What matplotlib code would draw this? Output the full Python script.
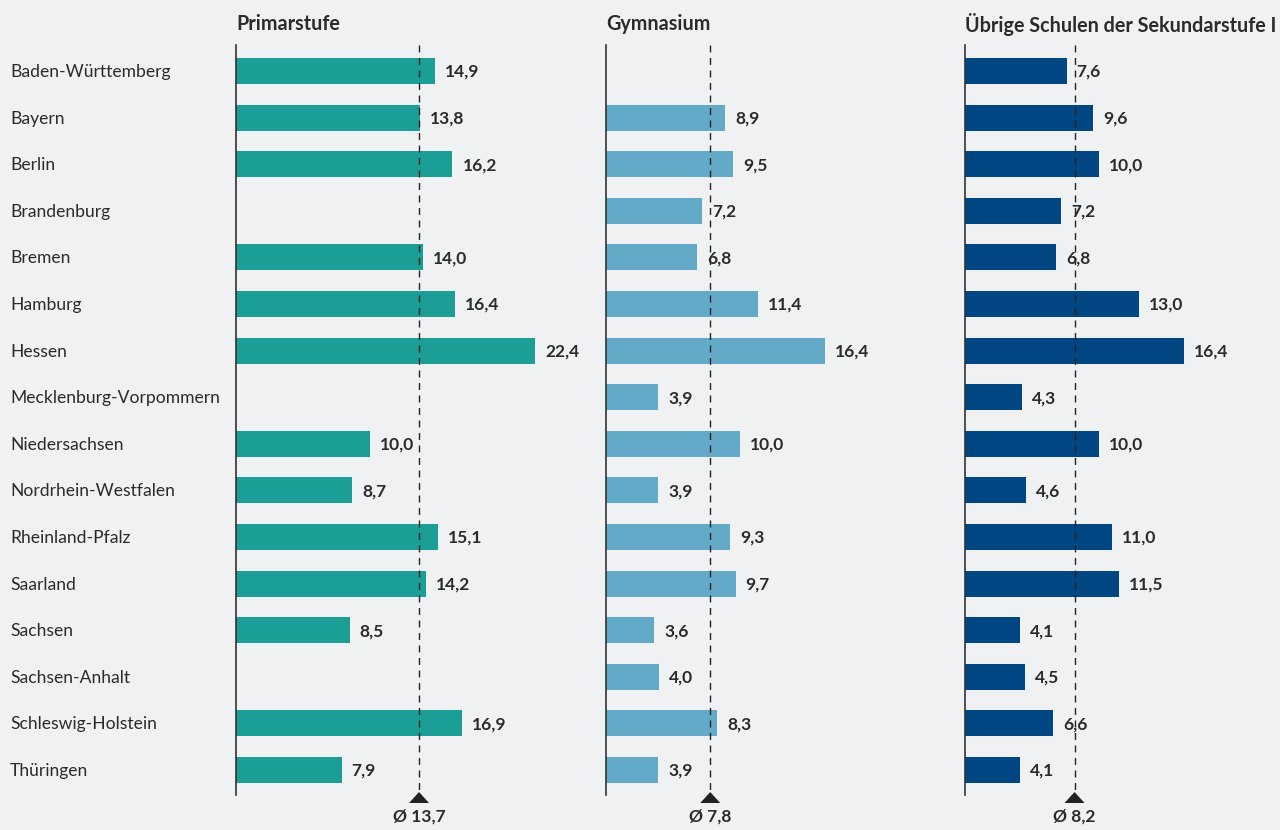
import numpy as np
import matplotlib
matplotlib.use("Agg")
import matplotlib.pyplot as plt
from matplotlib.patches import Polygon

plt.rcParams['font.family'] = ['Lato', 'DejaVu Sans']

states = ["Baden-Württemberg", "Bayern", "Berlin", "Brandenburg", "Bremen", "Hamburg",
          "Hessen", "Mecklenburg-Vorpommern", "Niedersachsen", "Nordrhein-Westfalen",
          "Rheinland-Pfalz", "Saarland", "Sachsen", "Sachsen-Anhalt",
          "Schleswig-Holstein", "Thüringen"]
primar = [14.9, 13.8, 16.2, np.nan, 14.0, 16.4, 22.4, np.nan, 10.0, 8.7, 15.1, 14.2, 8.5, np.nan, 16.9, 7.9]
gymnasium = [np.nan, 8.9, 9.5, 7.2, 6.8, 11.4, 16.4, 3.9, 10.0, 3.9, 9.3, 9.7, 3.6, 4.0, 8.3, 3.9]
uebrige = [7.6, 9.6, 10.0, 7.2, 6.8, 13.0, 16.4, 4.3, 10.0, 4.6, 11.0, 11.5, 4.1, 4.5, 6.6, 4.1]
titles = ["Primarstufe", "Gymnasium", "Übrige Schulen der Sekundarstufe I"]
means = [13.7, 7.8, 8.2]
colors = ["#1a9e96", "#63a9c8", "#004683"]

W, H = 1280, 830
fig = plt.figure(figsize=(W / 100, H / 100), dpi=100)
bg = "#f0f1f3"
fig.patch.set_facecolor(bg)

px_per_unit = 13.36
row_px = 46.6
row0 = 71
top_px, bot_px = 45, 795
y_top = (top_px - row0) / row_px
y_bot = (bot_px - row0) / row_px
txt = "#2b2b2b"

def py(p):
    return (p - row0) / row_px

lefts = [236, 606, 965]
rights = [606, 965, 1280]
series = [primar, gymnasium, uebrige]
ypos = np.arange(len(states))

for k in range(3):
    l, r = lefts[k], rights[k]
    ax = fig.add_axes([l / W, 1 - bot_px / H, (r - l) / W, (bot_px - top_px) / H])
    ax.patch.set_alpha(0)
    ax.set_xlim(0, (r - l) / px_per_unit)
    ax.set_ylim(y_bot, y_top)
    vals = np.array(series[k], dtype=float)
    mask = ~np.isnan(vals)
    ax.barh(ypos[mask], vals[mask], height=0.56, color=colors[k], zorder=2)
    for y, v in zip(ypos[mask], vals[mask]):
        ax.text(v + 0.75, y + 0.02, f"{v:.1f}".replace(".", ","), va="center", ha="left",
                fontsize=12.5, fontweight="bold", color=txt, zorder=4)
    for s in ["top", "right", "bottom"]:
        ax.spines[s].set_visible(False)
    ax.spines["left"].set_color("#333333")
    ax.spines["left"].set_linewidth(1.2)
    ax.set_xticks([])
    ax.set_yticks([])
    m = means[k]
    ax.plot([m, m], [y_top, py(795)], color="#222222", lw=1, ls=(0, (5, 4)), zorder=3)
    half = 10 / px_per_unit
    tri = Polygon([(m - half, py(803)), (m + half, py(803)), (m, py(792))],
                  closed=True, facecolor="#222222", edgecolor="none",
                  clip_on=False, zorder=5)
    ax.add_patch(tri)
    ax.text(m, py(817), "Ø " + f"{m:.1f}".replace(".", ","),
            ha="center", va="center", fontsize=12.5, fontweight="bold", color=txt,
            clip_on=False)
    ax.text(0, py(24), titles[k], ha="left", va="center",
            fontsize=14.2, fontweight="bold", color=txt, clip_on=False)
    if k == 0:
        for y, name in zip(ypos, states):
            ax.text(-226 / px_per_unit, y + 0.02, name, ha="left", va="center",
                    fontsize=12.6, color=txt, clip_on=False)

fig.savefig("out.png", dpi=100, facecolor=bg)
